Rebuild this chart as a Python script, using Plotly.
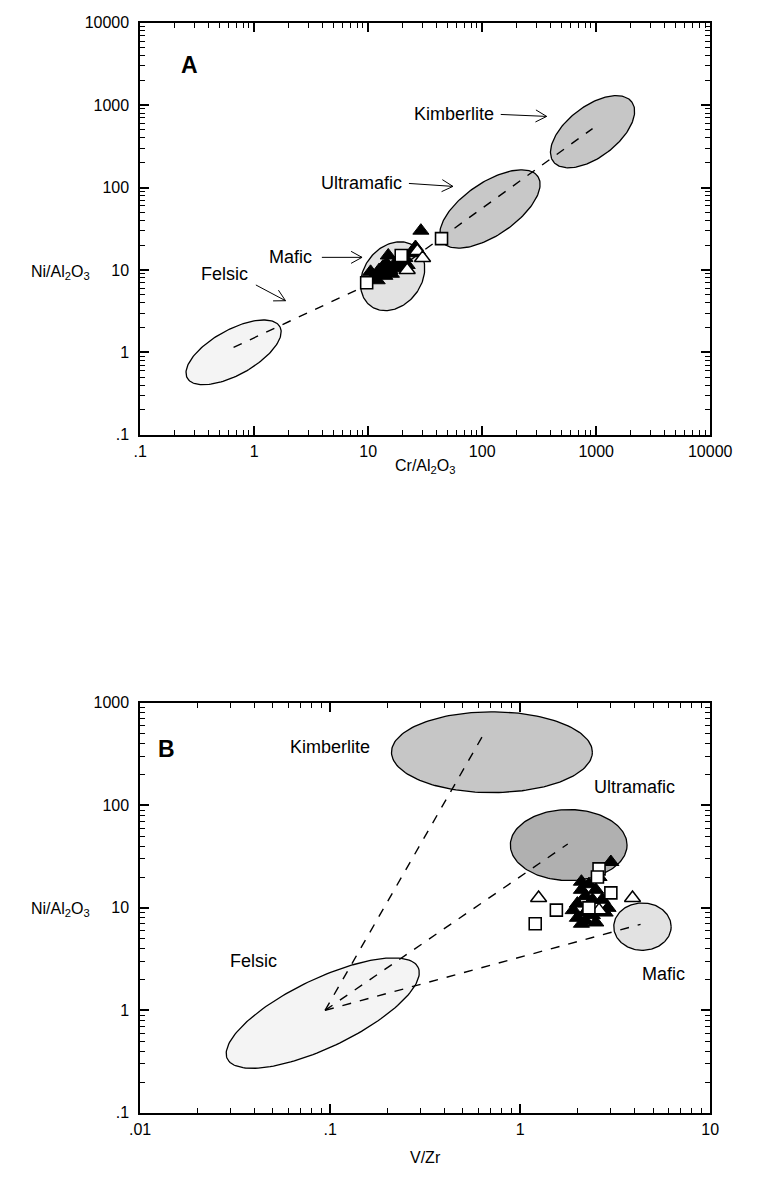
import numpy as np
import plotly.graph_objects as go

W, H = 759, 1181
# plot boxes (pixels)
XL, XR = 135, 731
A_T, A_B = 15, 433
B_T, B_B = 705, 1121

# ---------------- Panel A data (Cr/Al2O3 vs Ni/Al2O3) ----------------
A_filled_tri_x = [10.5, 11, 12, 12.5, 13, 13.5, 14, 14.5, 15, 15.5, 16, 17, 18, 19, 20, 21, 22, 24, 26, 29]
A_filled_tri_y = [9.5, 8, 7.5, 10, 9, 11, 8.5, 12, 15, 10, 9, 11, 13, 10.5, 12, 14, 11.5, 16, 19, 30]
A_open_tri_x = [27, 30, 22]
A_open_tri_y = [17, 14, 10]
A_open_sq_x = [9.7, 19.5, 44]
A_open_sq_y = [7.0, 15, 24]

# field ellipses: name, centre x, centre y, semi-axes (px), tilt (deg), fill
A_fields = [
    ("Kimberlite", 929, 476, 51, 26, 36, "#c6c6c6"),
    ("Ultramafic", 117, 55, 60, 27, 33, "#c8c8c8"),
    ("Mafic", 16.4, 8.4, 38, 30, 50, "#e2e2e2"),
    ("Felsic", 0.66, 1.0, 55, 23, 28, "#f4f4f4"),
]
A_trend_x = [0.66, 16, 929]
A_trend_y = [1.15, 9, 520]

# ---------------- Panel B data (V/Zr vs Ni/Al2O3) ----------------
B_filled_tri_x = [2.0, 2.1, 2.2, 2.3, 2.4, 2.0, 2.2, 2.5, 2.3, 2.7, 2.8, 1.9, 2.1, 2.6, 3.0, 2.9, 2.2, 2.4, 2.5, 2.1]
B_filled_tri_y = [8, 7, 9, 10, 8.5, 11, 13, 15, 17, 12, 9, 9.5, 15, 20, 28, 10, 7.5, 12, 7.2, 18]
B_open_tri_x = [1.25, 3.9, 2.6]
B_open_tri_y = [12.5, 12.5, 9.5]
B_open_sq_x = [1.2, 1.55, 3.0, 2.6, 2.55, 2.3]
B_open_sq_y = [7.0, 9.5, 14, 24, 20, 10]

B_fields = [
    ("Kimberlite", 0.71, 330, 105, 41, 0, "#c6c6c6"),
    ("Ultramafic", 1.8, 41, 61, 36, 0, "#b0b0b0"),
    ("Mafic", 4.4, 6.56, 30, 24, 0, "#e2e2e2"),
    ("Felsic", 0.0914, 0.94, 110, 35, 24.8, "#f4f4f4"),
]
B_origin = (0.094, 1.0)
B_ends_x = [0.66, 1.78, 4.3]
B_ends_y = [540, 42, 6.9]

tick_vals_A = [0.1, 1, 10, 100, 1000, 10000]
tick_text_A = [".1", "1", "10", "100", "1000", "10000"]
tick_vals_Bx = [0.01, 0.1, 1, 10]
tick_text_Bx = [".01", ".1", "1", "10"]
tick_vals_By = [0.1, 1, 10, 100, 1000]
tick_text_By = [".1", "1", "10", "100", "1000"]

FONT = "Liberation Sans, Arial, sans-serif"

# pixel scale per decade
sxA = (XR - XL) / 5.0
syA = (A_B - A_T) / 5.0
sxB = (XR - XL) / 3.0
syB = (B_B - B_T) / 4.0


def ellipse(cx, cy, a, b, ang, sx, sy, n=160):
    t = np.linspace(0, 2 * np.pi, n)
    r = np.radians(ang)
    dx = a * np.cos(t) * np.cos(r) - b * np.sin(t) * np.sin(r)
    dy = a * np.cos(t) * np.sin(r) + b * np.sin(t) * np.cos(r)
    return 10 ** (np.log10(cx) + dx / sx), 10 ** (np.log10(cy) + dy / sy)


fig = go.Figure()

def add_fields(fields, sx, sy, xa, ya):
    for name, cx, cy, a, b, ang, col in fields:
        ex, ey = ellipse(cx, cy, a, b, ang, sx, sy)
        fig.add_trace(go.Scatter(x=ex, y=ey, mode="lines", fill="toself",
                                 fillcolor=col, line=dict(color="black", width=1.3),
                                 xaxis=xa, yaxis=ya, hoverinfo="skip"))

def add_points(ftx, fty, otx, oty, osx, osy, xa, ya):
    fig.add_trace(go.Scatter(x=ftx, y=fty, mode="markers", xaxis=xa, yaxis=ya,
                             marker=dict(symbol="triangle-up", size=14, color="black",
                                         line=dict(color="black", width=1))))
    fig.add_trace(go.Scatter(x=otx, y=oty, mode="markers", xaxis=xa, yaxis=ya,
                             marker=dict(symbol="triangle-up", size=14, color="white",
                                         line=dict(color="black", width=1.5))))
    fig.add_trace(go.Scatter(x=osx, y=osy, mode="markers", xaxis=xa, yaxis=ya,
                             marker=dict(symbol="square", size=12, color="white",
                                         line=dict(color="black", width=1.6))))

# Panel A
add_fields(A_fields, sxA, syA, "x", "y")
fig.add_trace(go.Scatter(x=A_trend_x, y=A_trend_y, mode="lines",
                         line=dict(color="black", width=1.4, dash="dash"), xaxis="x", yaxis="y"))
add_points(A_filled_tri_x, A_filled_tri_y, A_open_tri_x, A_open_tri_y, A_open_sq_x, A_open_sq_y, "x", "y")

# Panel B
add_fields(B_fields, sxB, syB, "x2", "y2")
for ex, ey in zip(B_ends_x, B_ends_y):
    fig.add_trace(go.Scatter(x=[B_origin[0], ex], y=[B_origin[1], ey], mode="lines",
                             line=dict(color="black", width=1.4, dash="dash"), xaxis="x2", yaxis="y2"))
add_points(B_filled_tri_x, B_filled_tri_y, B_open_tri_x, B_open_tri_y, B_open_sq_x, B_open_sq_y, "x2", "y2")


def minor_vals(e0, e1):
    return [m * 10.0 ** e for e in range(e0, e1) for m in range(2, 10)]


def axis(rng, tv, tt, dom, anchor, minv, standoff):
    return dict(type="log", range=rng, domain=dom, anchor=anchor,
                tickmode="array", tickvals=tv, ticktext=tt,
                ticks="inside", ticklen=9, tickwidth=1.6, tickcolor="black",
                minor=dict(tickmode="array", tickvals=minv, ticks="inside", ticklen=5,
                           tickwidth=1.3, tickcolor="black", showgrid=False),
                showline=True, linecolor="black", linewidth=1.6, mirror="ticks",
                showgrid=False, zeroline=False, ticklabelstandoff=standoff,
                tickfont=dict(family=FONT, size=16, color="black"))

px = lambda v: v / W
py = lambda v: 1 - v / H

fig.update_layout(
    width=W, height=H, margin=dict(l=0, r=0, t=0, b=0),
    paper_bgcolor="white", plot_bgcolor="white", showlegend=False,
    xaxis=axis([-1, 4], tick_vals_A, tick_text_A, [px(XL), px(XR)], "y", minor_vals(-1, 4), 1),
    yaxis=axis([-1, 4], tick_vals_A, tick_text_A, [py(A_B), py(A_T)], "x", minor_vals(-1, 4), 6),
    xaxis2=axis([-2, 1], tick_vals_Bx, tick_text_Bx, [px(XL), px(XR)], "y2", minor_vals(-2, 1), 1),
    yaxis2=axis([-1, 3], tick_vals_By, tick_text_By, [py(B_B), py(B_T)], "x2", minor_vals(-1, 3), 6),
)

ann = []
def text(x, y, s, size=18, xanchor="center", **kw):
    ann.append(dict(x=px(x), y=py(y), xref="paper", yref="paper", text=s, showarrow=False,
                    xanchor=xanchor, yanchor="middle",
                    font=dict(family=FONT, size=size, color="black"), **kw))

text(433, 465, "Cr/Al<sub>2</sub>O<sub>3</sub>", 16)
text(52, 268, "Ni/Al<sub>2</sub>O<sub>3</sub>", 16)
text(433, 1166, "V/Zr", 16)
text(52, 915, "Ni/Al<sub>2</sub>O<sub>3</sub>", 16)
text(187, 58, "<b>A</b>", 23)
text(163, 752, "<b>B</b>", 23)
text(507, 108, "Kimberlite", 18, xanchor="right")
text(411, 178, "Ultramafic", 18, xanchor="right")
text(317, 253, "Mafic", 18, xanchor="right")
text(250, 270, "Felsic", 18, xanchor="right")
text(333, 750, "Kimberlite", 18)
text(652, 790, "Ultramafic", 18)
text(254, 967, "Felsic", 18)
text(682, 980, "Mafic", 18)
fig.update_layout(annotations=ann)

# open V arrows (label pointers)
arrows = [((512, 108), (560, 110)), ((416, 178), (462, 181)), ((325, 253), (367, 253)), ((256, 281), (287, 297))]
shapes = []
for (x0, y0), (x1, y1) in arrows:
    shapes.append(dict(type="line", xref="paper", yref="paper", x0=px(x0), y0=py(y0), x1=px(x1), y1=py(y1),
                       line=dict(color="black", width=1)))
    ang = np.arctan2(y1 - y0, x1 - x0)
    L = 13
    pts = []
    for d in (np.radians(28), -np.radians(28)):
        pts.append((x1 - L * np.cos(ang + d), y1 - L * np.sin(ang + d)))
    path = f"M {px(pts[0][0])},{py(pts[0][1])} L {px(x1)},{py(y1)} L {px(pts[1][0])},{py(pts[1][1])}"
    shapes.append(dict(type="path", xref="paper", yref="paper", path=path, line=dict(color="black", width=1)))
fig.update_layout(shapes=shapes)

fig.write_html("out.html")
